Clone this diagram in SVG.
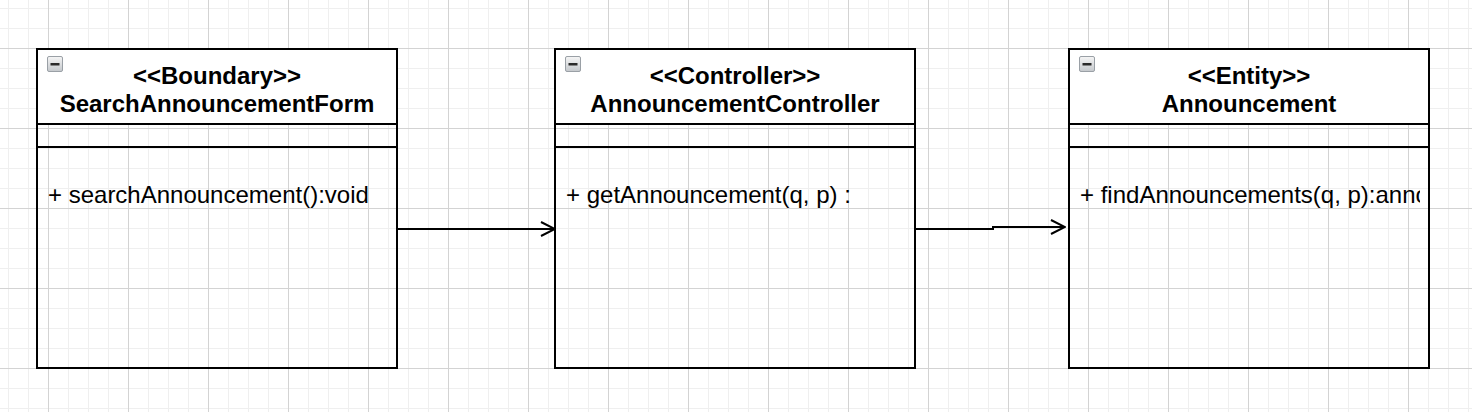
<svg xmlns="http://www.w3.org/2000/svg" width="1472" height="412" viewBox="0 0 1472 412">
  <defs>
    <pattern id="grid" x="8" y="8" width="80" height="80" patternUnits="userSpaceOnUse">
      <rect width="80" height="80" fill="#ffffff"/>
      <path d="M0.5 0V80M20.5 0V80M60.5 0V80M0 0.5H80M0 20.5H80M0 60.5H80" stroke="#efefef" stroke-width="1" fill="none"/>
      <path d="M40.5 0V80M0 40.5H80" stroke="#d3d3d3" stroke-width="1" fill="none"/>
    </pattern>
    <linearGradient id="iconGrad" x1="0" y1="0" x2="0" y2="1">
      <stop offset="0" stop-color="#f6f6f6"/>
      <stop offset="1" stop-color="#c4c8cc"/>
    </linearGradient>
    <g id="collapse">
      <rect x="0.5" y="0.5" width="15" height="15" rx="1.5" fill="url(#iconGrad)" stroke="#9aa0a6" stroke-width="1"/>
      <rect x="3.5" y="7" width="9" height="2.5" fill="#2a2a2a"/>
    </g>
    <marker id="open" viewBox="0 0 16 16" refX="15" refY="8" markerWidth="16" markerHeight="16" markerUnits="userSpaceOnUse" orient="auto">
      <path d="M1 1L15 8L1 15" fill="none" stroke="#000" stroke-width="2"/>
    </marker>
    <clipPath id="clip3">
      <rect x="1069" y="150" width="351" height="215"/>
    </clipPath>
    <style>
      .box { fill: none; stroke: #000; stroke-width: 2; }
      .hdr { fill: #ffffff; }
      .sep { stroke: #000; stroke-width: 2; }
      .title { font-family: "Liberation Sans", Arial, sans-serif; font-size: 24px; font-weight: bold; text-anchor: middle; fill: #000; }
      .method { font-family: "Liberation Sans", Arial, sans-serif; font-size: 24px; fill: #000; }
      .conn { fill: none; stroke: #000; stroke-width: 2; }
    </style>
  </defs>

  <rect width="1472" height="412" fill="url(#grid)"/>

  <g id="node-boundary">
    <rect class="hdr" x="37" y="49" width="360" height="75"/>
    <rect class="box" x="37" y="49" width="360" height="319"/>
    <line class="sep" x1="37" y1="124" x2="397" y2="124"/>
    <line class="sep" x1="37" y1="147" x2="397" y2="147"/>
    <use href="#collapse" x="47" y="56"/>
    <text class="title" x="217" y="84">&lt;&lt;Boundary&gt;&gt;</text>
    <text class="title" x="217" y="112">SearchAnnouncementForm</text>
    <text class="method" x="48" y="203">+ searchAnnouncement():void</text>
  </g>

  <g id="node-controller">
    <rect class="hdr" x="555" y="49" width="360" height="75"/>
    <rect class="box" x="555" y="49" width="360" height="319"/>
    <line class="sep" x1="555" y1="124" x2="915" y2="124"/>
    <line class="sep" x1="555" y1="147" x2="915" y2="147"/>
    <use href="#collapse" x="565" y="56"/>
    <text class="title" x="735" y="84">&lt;&lt;Controller&gt;&gt;</text>
    <text class="title" x="735" y="112">AnnouncementController</text>
    <text class="method" x="566" y="203">+ getAnnouncement(q, p) :</text>
  </g>

  <g id="node-entity">
    <rect class="hdr" x="1069" y="49" width="360" height="75"/>
    <rect class="box" x="1069" y="49" width="360" height="319"/>
    <line class="sep" x1="1069" y1="124" x2="1429" y2="124"/>
    <line class="sep" x1="1069" y1="147" x2="1429" y2="147"/>
    <use href="#collapse" x="1079" y="56"/>
    <text class="title" x="1249" y="84">&lt;&lt;Entity&gt;&gt;</text>
    <text class="title" x="1249" y="112">Announcement</text>
    <text class="method" x="1080" y="203" clip-path="url(#clip3)">+ findAnnouncements(q, p):anno</text>
  </g>

  <g id="connectors">
    <path class="conn" d="M397 229H555" marker-end="url(#open)"/>
    <path class="conn" d="M915 229H993V227H1065" marker-end="url(#open)"/>
  </g>
</svg>
